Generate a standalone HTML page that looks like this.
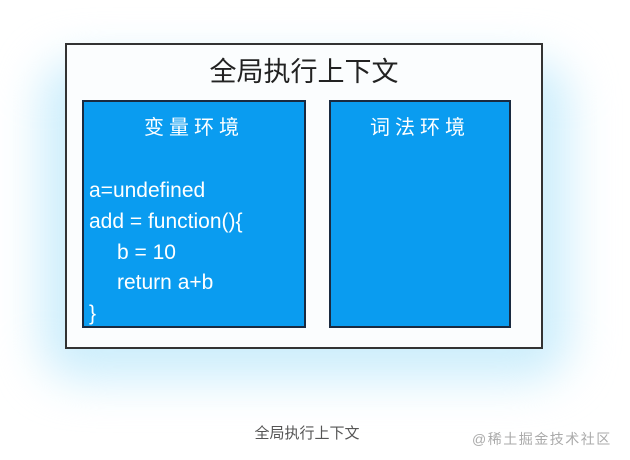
<!DOCTYPE html>
<html><head><meta charset="utf-8"><style>
body{margin:0;width:630px;height:460px;background:#fff;position:relative;overflow:hidden;font-family:"Liberation Sans","Noto Sans CJK SC",sans-serif}
.glow{position:absolute;left:40px;top:60px;width:530px;height:320px;border-radius:40px;background:#cdeefc;filter:blur(22px)}
.outer{position:absolute;left:65px;top:43px;width:474px;height:302px;border:2px solid #333;background:#fbfdfe}
.title{position:absolute;left:65px;top:50px;width:478px;text-align:center;font-size:27px;color:#222}
.box{position:absolute;top:100px;height:224px;background:#0a9cf0;border:2px solid #1a2a40}
.bt{position:absolute;top:111px;color:#fff;font-size:20px;letter-spacing:5px;text-align:center}
.code{position:absolute;left:89px;top:176px;color:#fff;font-size:21px;line-height:30.8px;white-space:pre}
.code span{padding-left:28px}
.cap{position:absolute;left:0;width:614px;top:422px;text-align:center;font-size:15px;color:#555}
.wm{position:absolute;left:472px;top:429px;font-size:14px;letter-spacing:1.5px;color:#aaa}
</style></head><body>
<div class="glow"></div>
<div class="outer"></div>
<div class="title">全局执行上下文</div>
<div class="box" style="left:82px;width:220px"></div>
<div class="box" style="left:329px;width:178px"></div>
<div class="bt" style="left:82px;width:224px">变量环境</div>
<div class="bt" style="left:329px;width:182px">词法环境</div>
<div class="code">a=undefined
add = function(){
<span>b = 10</span>
<span>return a+b</span>
}</div>
<div class="cap">全局执行上下文</div>
<div class="wm">@稀土掘金技术社区</div>
</body></html>
